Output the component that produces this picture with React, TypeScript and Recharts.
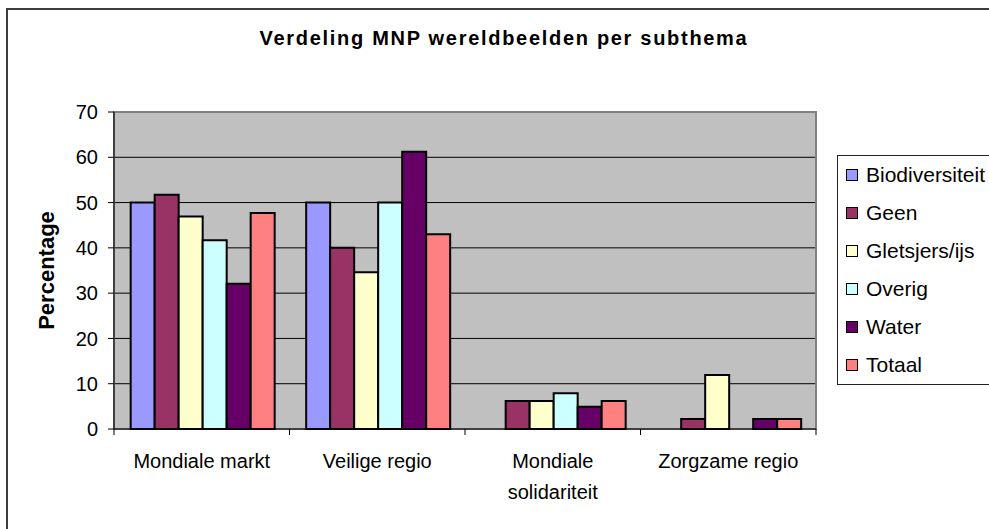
import * as React from "react";
import { BarChart, Bar, XAxis, YAxis, CartesianGrid, Legend, ReferenceArea } from "recharts";

const categories = ["Mondiale markt", "Veilige regio", "Mondiale solidariteit", "Zorgzame regio"];

const biodiversiteit = [50, 50, 0, 0];
const geen = [51.7, 40, 6.2, 2.2];
const gletsjers = [46.9, 34.6, 6.2, 11.9];
const overig = [41.7, 50, 7.9, 0];
const water = [32.1, 61.2, 4.9, 2.2];
const totaal = [47.7, 43, 6.2, 2.2];

const yTicks = [0, 10, 20, 30, 40, 50, 60, 70];

const series = [
  { key: "Biodiversiteit", values: biodiversiteit, color: "#9999FF" },
  { key: "Geen", values: geen, color: "#993366" },
  { key: "Gletsjers/ijs", values: gletsjers, color: "#FFFFCC" },
  { key: "Overig", values: overig, color: "#CCFFFF" },
  { key: "Water", values: water, color: "#660066" },
  { key: "Totaal", values: totaal, color: "#FF8080" },
];

const FONT = '"Liberation Sans", Arial, sans-serif';

const data = categories.map((name, i) => {
  const row: Record<string, string | number> = { name };
  series.forEach((s) => {
    row[s.key] = s.values[i];
  });
  return row;
});

// long labels wrap onto two lines, like the excel original
function splitLabel(label: string): string[] {
  if (label.length <= 16) return [label];
  const idx = label.lastIndexOf(" ");
  return idx > 0 ? [label.slice(0, idx), label.slice(idx + 1)] : [label];
}

function CategoryTick(props: any) {
  const { x, y, payload } = props;
  const half = payload.offset ?? 0;
  const isLast = payload.value === categories[categories.length - 1];
  const lines = splitLabel(String(payload.value));
  return (
    <g>
      <line x1={x - half} x2={x - half} y1={y} y2={y + 6} stroke="#000" />
      {isLast && <line x1={x + half} x2={x + half} y1={y} y2={y + 6} stroke="#000" />}
      <text x={x} y={y + 39} textAnchor="middle" fill="#000" fontSize={20} fontFamily={FONT}>
        {lines.map((l, i) => (
          <tspan key={i} x={x} dy={i === 0 ? 0 : 31}>
            {l}
          </tspan>
        ))}
      </text>
    </g>
  );
}

function LegendBox() {
  return (
    <div
      style={{
        border: "1px solid #222",
        background: "#fff",
        fontFamily: FONT,
        fontSize: 21,
        color: "#000",
      }}
    >
      {series.map((s) => (
        <div key={s.key} style={{ display: "flex", alignItems: "center", height: 38, paddingLeft: 8 }}>
          <span
            style={{
              display: "inline-block",
              width: 10,
              height: 10,
              border: "1px solid #000",
              background: s.color,
              marginRight: 8,
            }}
          />
          <span style={{ whiteSpace: "nowrap" }}>{s.key}</span>
        </div>
      ))}
    </div>
  );
}

export default function App() {
  return (
    <div
      style={{
        position: "absolute",
        left: 0,
        top: 0,
        width: 989,
        height: 529,
        overflow: "hidden",
        background: "#fff",
        fontFamily: FONT,
      }}
    >
      <div
        style={{
          position: "absolute",
          left: 6,
          top: 8,
          width: 1020,
          height: 560,
          borderLeft: "2px solid #3c3c3c",
          borderTop: "2px solid #3c3c3c",
        }}
      />
      <div
        style={{
          position: "absolute",
          left: 0,
          top: 28,
          width: 1008,
          textAlign: "center",
          fontSize: 20,
          lineHeight: "20px",
          fontWeight: "bold",
          letterSpacing: 1.7,
          color: "#000",
        }}
      >
        Verdeling MNP wereldbeelden per subthema
      </div>
      <div style={{ position: "absolute", left: 0, top: 0 }}>
        <BarChart
          width={989}
          height={529}
          data={data}
          margin={{ top: 112, right: 173, bottom: 40, left: 14 }}
          barGap={0}
          barCategoryGap="9.5%"
        >
          <CartesianGrid vertical={false} stroke="#000" fill="#C0C0C0" fillOpacity={1} />
          <ReferenceArea y1={0} y2={70} fill="none" stroke="#808080" strokeWidth={2} ifOverflow="extendDomain" />
          <XAxis
            dataKey="name"
            height={60}
            tickSize={0}
            tickMargin={0}
            tickLine={false}
            axisLine={{ stroke: "#000" }}
            tick={<CategoryTick />}
            interval={0}
          />
          <YAxis
            width={100}
            domain={[0, 70]}
            ticks={yTicks}
            tickSize={6}
            tickMargin={10}
            axisLine={{ stroke: "#000" }}
            tickLine={{ stroke: "#000" }}
            tick={{ fill: "#000", fontSize: 20, fontFamily: FONT }}
            label={{
              content: ({ viewBox }: any) => {
                const cx = viewBox.x + 32;
                const cy = viewBox.y + viewBox.height / 2;
                return (
                  <text
                    x={cx}
                    y={cy}
                    transform={`rotate(-90, ${cx}, ${cy})`}
                    textAnchor="middle"
                    dominantBaseline="central"
                    fontSize={22}
                    fontWeight="bold"
                    fontFamily={FONT}
                    fill="#000"
                  >
                    Percentage
                  </text>
                );
              },
            }}
          />
          <Legend
            layout="vertical"
            align="center"
            verticalAlign="middle"
            wrapperStyle={{ left: 837, top: 155, width: 165 }}
            content={<LegendBox />}
          />
          {series.map((s) => (
            <Bar
              key={s.key}
              dataKey={s.key}
              fill={s.color}
              stroke="#000"
              strokeWidth={2}
              isAnimationActive={false}
            />
          ))}
        </BarChart>
      </div>
    </div>
  );
}
